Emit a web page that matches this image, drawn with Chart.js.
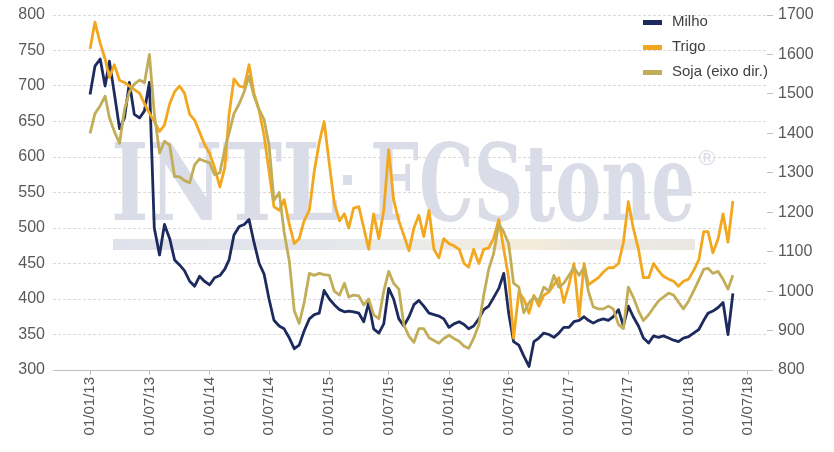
<!DOCTYPE html>
<html>
<head>
<meta charset="utf-8">
<script src="https://cdn.jsdelivr.net/npm/chart.js@4.4.1/dist/chart.umd.min.js"></script>
<style>
  html, body { margin: 0; padding: 0; background: #fff; }
  #wrap { width: 834px; height: 452px; }
</style>
</head>
<body>
<div id="wrap"><canvas id="grafico" width="834" height="452"></canvas></div>
<script>
// Séries (cotações), amostra quinzenal de jan/2013 a mai/2018
const milho = [
  688,728,738,700,735,690,640,655,705,660,
  655,665,705,500,462,505,485,455,448,440,
  425,418,432,425,420,430,433,442,455,490,
  502,505,512,480,450,435,400,370,362,358,
  345,330,335,355,372,378,380,412,400,392,
  385,382,383,382,380,368,395,358,352,365,
  415,400,372,362,375,392,398,390,380,378,
  376,372,360,365,368,364,358,362,372,385,
  390,402,415,436,380,340,335,320,305,340,
  345,352,350,346,352,360,360,368,370,375,
  370,366,370,372,370,375,385,362,390,375,
  362,345,338,348,346,348,345,342,340,345,
  347,352,357,370,380,383,388,395,350,408
];
const trigo = [
  752,790,760,738,712,730,708,705,700,695,
  690,675,662,650,636,645,675,692,700,690,
  660,652,635,618,605,585,558,585,660,710,
  700,698,730,690,665,630,580,530,525,540,
  505,478,485,510,525,580,620,650,590,535,
  510,520,500,528,530,500,470,520,485,525,
  610,540,510,490,468,500,518,488,525,470,
  458,485,478,475,470,450,445,470,450,470,
  472,485,512,470,430,345,410,400,380,405,
  390,405,410,420,430,395,420,450,375,450,
  420,425,430,438,444,444,450,480,537,500,
  470,430,430,450,440,432,428,425,418,425,
  428,440,455,495,495,465,485,520,480,538
];
const soja = [
  1400,1450,1470,1494,1440,1405,1375,1460,1505,1525,
  1535,1528,1600,1450,1350,1380,1370,1290,1290,1280,
  1275,1320,1335,1330,1325,1295,1300,1360,1400,1450,
  1475,1505,1545,1495,1460,1435,1370,1230,1250,1150,
  1075,950,918,970,1045,1040,1045,1042,1040,1000,
  990,1020,985,990,988,965,980,940,930,1000,
  1050,1020,1005,915,885,870,905,905,882,875,
  868,880,888,880,873,860,855,880,915,990,
  1055,1095,1170,1150,1120,1020,1010,945,970,985,
  975,1010,1000,1040,1010,1020,1040,1060,1040,1060,
  1000,960,955,955,962,955,915,905,1010,985,
  950,925,940,958,975,985,995,990,972,955,
  975,1000,1028,1055,1058,1045,1050,1030,1005,1040
];

// Datas: dias 1 e 16 de cada mês, jan/2013 a mai/2018
const datas = [];
for (let m = 0; m < 65; m++) {
  datas.push(Date.UTC(2013, m, 1));
  datas.push(Date.UTC(2013, m, 16));
}

const rotulosEixoX = ['2013-01-01','2013-07-01','2014-01-01','2014-07-01','2015-01-01','2015-07-01',
  '2016-01-01','2016-07-01','2017-01-01','2017-07-01','2018-01-01','2018-07-01'];
const nomesSeries = ['Milho', 'Trigo', 'Soja (eixo dir.)'];
const cores = ['#1d2a5d', '#f3a71f', '#c2ad58'];

function ts(s) { return Date.parse(s + 'T00:00:00Z'); }
function pontos(valores) { return valores.map((v, i) => ({ x: datas[i], y: v })); }
function formataData(v) {
  const d = new Date(v);
  const p = (n) => String(n).padStart(2, '0');
  return p(d.getUTCDate()) + '/' + p(d.getUTCMonth() + 1) + '/' + p(d.getUTCFullYear() % 100);
}

// Marca d'água
const marcaDagua = {
  id: 'marcaDagua',
  beforeDatasetsDraw(chart) {
    const ctx = chart.ctx;
    const a = chart.chartArea;
    const ox = a.left, oy = a.top;
    function texto(t, x0, x1, y) {
      const w = ctx.measureText(t).width;
      ctx.save();
      ctx.translate(x0, y);
      ctx.scale((x1 - x0) / w, 1);
      ctx.fillText(t, 0, 0);
      ctx.restore();
    }
    ctx.save();
    ctx.fillStyle = '#dadde7';
    ctx.font = 'bold 106px "DejaVu Serif"';
    ctx.textBaseline = 'alphabetic';
    texto('INTL', ox + 58, ox + 286, oy + 205);
    texto('FCStone', ox + 317, ox + 642, oy + 205);
    ctx.fillRect(ox + 290, oy + 160, 9, 10);
    ctx.font = '22px "DejaVu Sans"';
    ctx.fillText('\u00AE', ox + 643, oy + 150);
    const g = ctx.createLinearGradient(ox + 60, 0, ox + 642, 0);
    g.addColorStop(0, '#dfe2ea');
    g.addColorStop(0.35, '#e4e6ec');
    g.addColorStop(0.55, '#ecebe6');
    g.addColorStop(0.72, '#f5ecdb');
    g.addColorStop(0.8, '#ece7df');
    g.addColorStop(1, '#ebe8e3');
    ctx.fillStyle = g;
    ctx.fillRect(ox + 60, oy + 224, 582, 11);
    ctx.restore();
  }
};

// Legenda dentro da área do gráfico
const legendaInterna = {
  id: 'legendaInterna',
  afterDraw(chart) {
    const ctx = chart.ctx;
    const a = chart.chartArea;
    const x = a.right - 124;
    ctx.save();
    ctx.font = '15px "Liberation Sans", Arial, sans-serif';
    ctx.textBaseline = 'middle';
    nomesSeries.forEach((nome, i) => {
      const y = a.top + 7 + i * 25;
      ctx.fillStyle = cores[i];
      ctx.fillRect(x, y - 2, 19, 5);
      ctx.fillStyle = '#404040';
      ctx.fillText(nome, x + 29, y);
    });
    ctx.restore();
  }
};

document.addEventListener('DOMContentLoaded', function () {
  Chart.defaults.font.family = '"Liberation Sans", Arial, sans-serif';
  Chart.defaults.color = '#595959';

  const serie = (i, valores, eixo, ordem) => ({
    label: nomesSeries[i],
    data: pontos(valores),
    yAxisID: eixo,
    borderColor: cores[i],
    backgroundColor: cores[i],
    borderWidth: 2.8,
    pointRadius: 0,
    tension: 0,
    borderJoinStyle: 'round',
    order: ordem
  });

  new Chart(document.getElementById('grafico'), {
    type: 'line',
    data: {
      datasets: [
        serie(0, milho, 'y', 2),
        serie(1, trigo, 'y', 1),
        serie(2, soja, 'y1', 0)
      ]
    },
    options: {
      responsive: false,
      animation: false,
      layout: { padding: { top: 7, left: 0, right: 0, bottom: 0 } },
      plugins: { legend: { display: false }, tooltip: { enabled: false } },
      scales: {
        x: {
          type: 'linear',
          min: ts('2012-09-10'),
          max: ts('2018-08-28'),
          afterBuildTicks: (s) => { s.ticks = rotulosEixoX.map(d => ({ value: ts(d) })); },
          afterFit: (s) => { s.height = 82; },
          ticks: {
            autoSkip: false,
            minRotation: 90,
            maxRotation: 90,
            padding: 2,
            font: { size: 15 },
            callback: (v) => formataData(v)
          },
          grid: { drawOnChartArea: false, drawTicks: true, tickLength: 5, color: '#bfbfbf' },
          border: { display: true, color: '#bfbfbf' }
        },
        y: {
          position: 'left',
          min: 300,
          max: 800,
          afterFit: (s) => { s.width = 53; },
          ticks: { stepSize: 50, padding: 8, font: { size: 16, lineHeight: 0.875 }, callback: (v) => String(v) },
          grid: { color: '#d9d9d9', drawTicks: false },
          border: { display: false, dash: [3, 2] }
        },
        y1: {
          position: 'right',
          min: 800,
          max: 1700,
          afterFit: (s) => { s.width = 67; },
          ticks: { stepSize: 100, padding: 5, font: { size: 16, lineHeight: 0.875 }, callback: (v) => String(v) },
          grid: { drawOnChartArea: false, drawTicks: true, tickLength: 6, color: '#bfbfbf' },
          border: { display: false }
        }
      }
    },
    plugins: [marcaDagua, legendaInterna]
  });
});
</script>
</body>
</html>
